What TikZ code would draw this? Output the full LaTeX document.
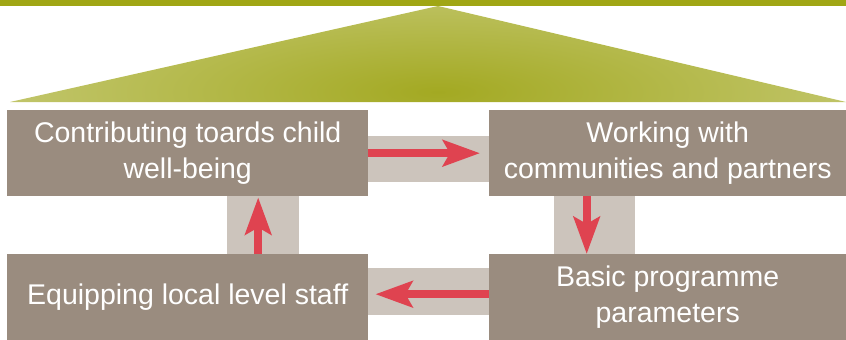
\documentclass[tikz,border=0pt]{standalone}
\usepackage{fontspec}
\setmainfont{Liberation Sans}
\usetikzlibrary{arrows.meta,calc}
\definecolor{boxc}{HTML}{9A8C7F}
\definecolor{bandc}{HTML}{CCC4BC}
\definecolor{redc}{HTML}{DF4350}
\definecolor{olivebar}{HTML}{A0A615}
\definecolor{olivedark}{HTML}{A3A922}
\definecolor{olivelight}{HTML}{D8DBA2}
\begin{document}
\begin{tikzpicture}[x=1pt,y=-1pt,
  box/.style={fill=boxc, text=white, inner sep=0pt, align=center,
    font=\fontsize{28.5}{36}\selectfont, anchor=north west},
  band/.style={fill=bandc, inner sep=0pt, anchor=north west},
  arr/.style={draw=redc, line width=8pt,
    -{Stealth[length=37pt 0 0, width=26pt 0 0, inset=7pt 0 0]}}]
\useasboundingbox (0,0) rectangle (846,340);
% top bar
\fill[olivebar] (0,0) rectangle (846,6);
% roof triangle
\begin{scope}
  \clip (10,102) -- (438,6) -- (846,102) -- cycle;
  \shade[inner color=olivedark, outer color=olivelight] (438,92) ellipse (760 and 190);
\end{scope}
% connecting bands
\node[band, minimum width=121, minimum height=46] (bt) at (368,136) {};
\node[band, minimum width=72, minimum height=58] (blv) at (227,196) {};
\node[band, minimum width=81, minimum height=58] (brv) at (554,196) {};
\node[band, minimum width=121, minimum height=47] (bb) at (368,268) {};
% boxes
\node[box, minimum width=361, minimum height=86] (tl) at (7,110)
  {Contributing toards child\\well-being};
\node[box, minimum width=357, minimum height=86] (tr) at (489,110)
  {Working with\\communities and partners};
\node[box, minimum width=361, minimum height=86] (bl) at (7,254)
  {Equipping local level staff};
\node[box, minimum width=357, minimum height=86] (br) at (489,254)
  {Basic programme\\parameters};
% arrows
\draw[arr, shorten >=9pt] (tl.east) -- (tr.west);
\draw[arr] ($(tr.south -| brv)+(-8,0)$) -- ($(br.north -| brv)+(-8,0)$);
\draw[arr, shorten >=7pt] ($(br.west)+(0,-3)$) -- ($(bl.east)+(0,-3)$);
\draw[arr, shorten >=1pt] ($(bl.north -| blv)+(-5,0)$) -- ($(tl.south -| blv)+(-5,0)$);
\end{tikzpicture}
\end{document}
